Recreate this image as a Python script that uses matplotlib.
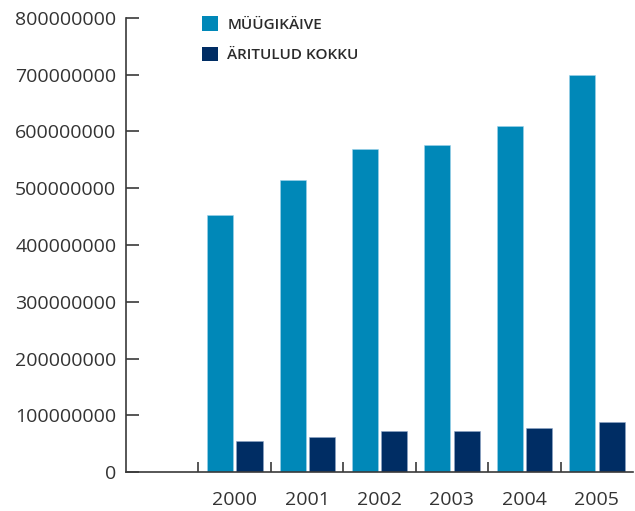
import numpy as np
import matplotlib
matplotlib.use('Agg')
import matplotlib.pyplot as plt
from matplotlib.patches import Patch

plt.rcParams['font.family'] = ['Open Sans', 'DejaVu Sans']

# data
years = ['', '2000', '2001', '2002', '2003', '2004', '2005']
muugikaive = [0, 452e6, 515e6, 569e6, 577e6, 610e6, 700e6]
aritulud_kokku = [0, 55e6, 62e6, 72e6, 72e6, 77e6, 88e6]
series_names = ['MÜÜGIKÄIVE', 'ÄRITULUD KOKKU']
colors = ['#0088B8', '#002D64']

fig = plt.figure(figsize=(6.35, 5.11), dpi=100)
ax = fig.add_axes([0.1984, 0.0763, 0.7984, 0.8885])

x = np.arange(len(years))
w = 0.36
# first category is empty in the original
ax.bar(x[1:] - 0.2, muugikaive[1:], width=w, color=colors[0], edgecolor='#9fd3ea', linewidth=0.4)
ax.bar(x[1:] + 0.205, aritulud_kokku[1:], width=w, color=colors[1], edgecolor='#8fa6c8', linewidth=0.4)

ax.set_xlim(-0.5, len(years) - 0.5)
ax.set_ylim(0, 800e6)
ax.set_yticks(np.arange(0, 800e6 + 1, 100e6))
ax.set_yticklabels([str(int(v)) for v in np.arange(0, 800e6 + 1, 100e6)])

ax.set_xticks(x)
ax.set_xticklabels(years)
ax.set_xticks(x[:-1] + 0.5, minor=True)

for s in ['top', 'right']:
    ax.spines[s].set_visible(False)
for s in ['left', 'bottom']:
    ax.spines[s].set_color('#3a3a3a')
    ax.spines[s].set_linewidth(1.2)

ax.tick_params(axis='y', direction='in', length=9, width=1.2, color='#3a3a3a',
               labelsize=14, labelcolor='#333333', pad=7)
ax.tick_params(axis='x', which='major', length=0, labelsize=14, labelcolor='#333333', pad=14)
ax.tick_params(axis='x', which='minor', direction='in', length=7, width=1.2, color='#3a3a3a')

handles = [Patch(facecolor=c, edgecolor='none') for c in colors]
leg = fig.legend(handles, series_names, loc='upper left', bbox_to_anchor=(0.318, 0.968),
                 frameon=False, prop={'size': 11, 'weight': 'semibold'},
                 handlelength=1.05, handleheight=1.05,
                 handletextpad=0.6, labelspacing=0.98, borderaxespad=0, borderpad=0)
for t in leg.get_texts():
    t.set_color('#2a2a2a')

fig.savefig('out.png', dpi=100)
